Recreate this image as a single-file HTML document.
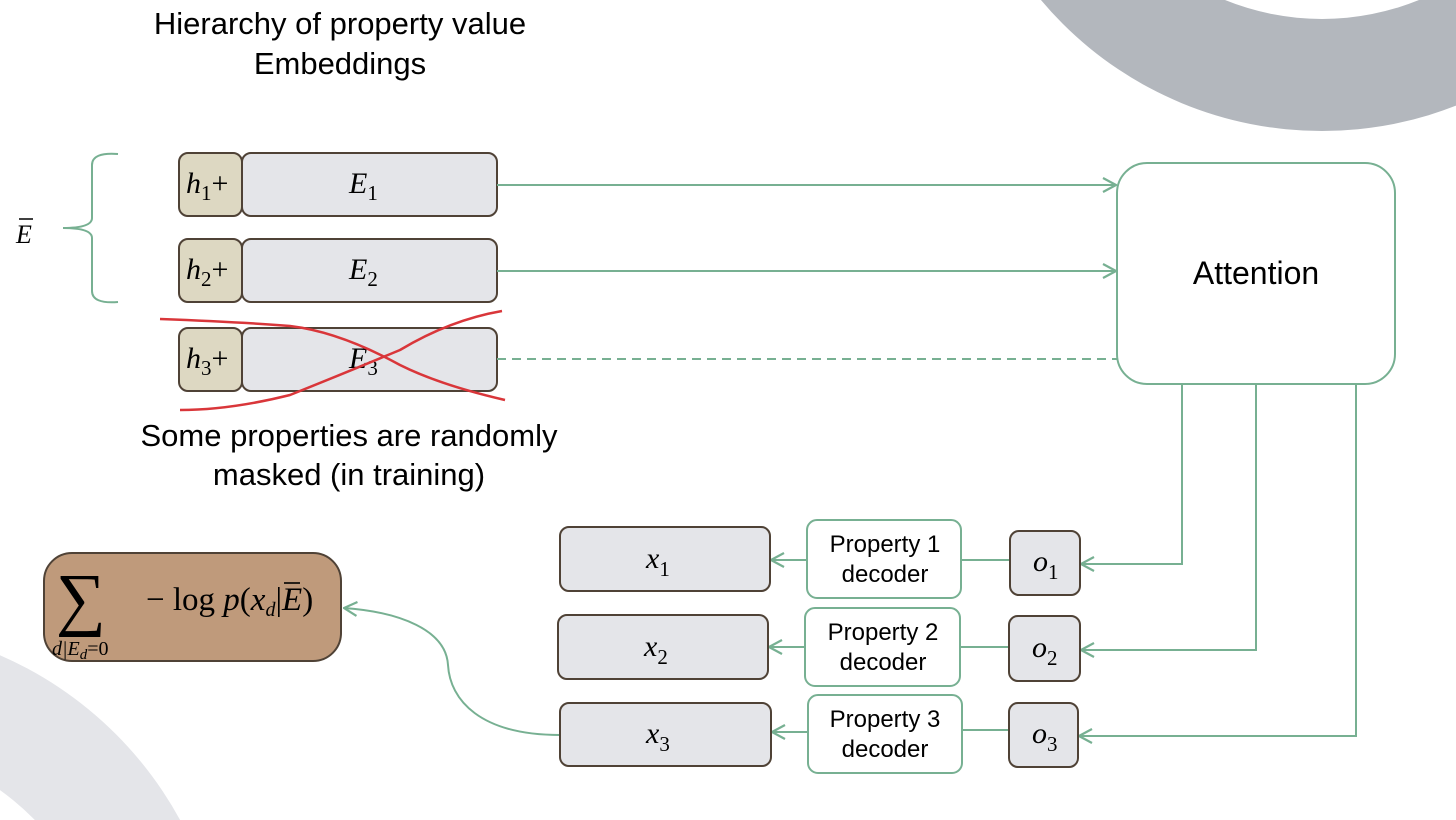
<!DOCTYPE html>
<html><head><meta charset="utf-8"><style>
html,body{margin:0;padding:0;background:#fff;overflow:hidden;width:1456px;height:820px}
svg{display:block}
</style></head><body>
<svg width="1456" height="820" viewBox="0 0 1456 820" xmlns="http://www.w3.org/2000/svg" font-family="Liberation Sans, sans-serif">
<defs>
<marker id="a" viewBox="0 0 16 16" refX="15" refY="8" markerWidth="16" markerHeight="16" markerUnits="userSpaceOnUse" orient="auto">
<path d="M2,1 L15,8 L2,15" fill="none" stroke="#77b092" stroke-width="2.2"/></marker>
</defs>
<path fill-rule="evenodd" fill="#b3b7bd" d="M955,-236 a367,367 0 1,0 734,0 a367,367 0 1,0 -734,0 Z M1065,-238 a257,257 0 1,0 514,0 a257,257 0 1,0 -514,0 Z"/>
<path fill-rule="evenodd" fill="#e4e5e9" d="M-526,1000 a376,376 0 1,0 752,0 a376,376 0 1,0 -752,0 Z M-408,1000 a258,258 0 1,0 516,0 a258,258 0 1,0 -516,0 Z"/>

<text x="340" y="34" font-size="31" text-anchor="middle">Hierarchy of property value</text>
<text x="340" y="74" font-size="31" text-anchor="middle">Embeddings</text>

<text x="16" y="243" font-family="Liberation Serif, serif" font-style="italic" font-size="26">E</text>
<line x1="19" y1="219" x2="33" y2="219" stroke="#000" stroke-width="1.5"/>
<path d="M118,154 Q92,152 92,165 L92,218 Q92,228 63,228 Q92,228 92,238 L92,291 Q92,304 118,302" fill="none" stroke="#77b092" stroke-width="2"/>

<g stroke="#4f4236" stroke-width="2">
<rect x="179" y="153" width="63" height="63" rx="9" fill="#ddd8c2"/>
<rect x="242" y="153" width="255" height="63" rx="9" fill="#e4e5e9"/>
<rect x="179" y="239" width="63" height="63" rx="9" fill="#ddd8c2"/>
<rect x="242" y="239" width="255" height="63" rx="9" fill="#e4e5e9"/>
<rect x="179" y="328" width="63" height="63" rx="9" fill="#ddd8c2"/>
<rect x="242" y="328" width="255" height="63" rx="9" fill="#e4e5e9"/>
</g>
<g font-size="30" font-family="Liberation Serif, serif" font-style="italic">
<text x="186" y="193">h<tspan font-size="21" dy="7" font-style="normal">1</tspan><tspan dy="-7" font-style="normal">+</tspan></text>
<text x="186" y="279">h<tspan font-size="21" dy="7" font-style="normal">2</tspan><tspan dy="-7" font-style="normal">+</tspan></text>
<text x="186" y="368">h<tspan font-size="21" dy="7" font-style="normal">3</tspan><tspan dy="-7" font-style="normal">+</tspan></text>
<text x="349" y="193">E<tspan font-size="21" dy="7" font-style="normal">1</tspan></text>
<text x="349" y="279">E<tspan font-size="21" dy="7" font-style="normal">2</tspan></text>
<text x="349" y="368">E<tspan font-size="21" dy="7" font-style="normal">3</tspan></text>
</g>
<path d="M160,319 Q240,322 290,326 Q340,332 400,365 Q440,385 505,400" fill="none" stroke="#d9363a" stroke-width="2.5"/>
<path d="M180,410 Q230,410 290,395 Q340,375 400,350 Q450,320 502,311" fill="none" stroke="#d9363a" stroke-width="2.5"/>

<text x="349" y="446" font-size="31" text-anchor="middle">Some properties are randomly</text>
<text x="349" y="485" font-size="31" text-anchor="middle">masked (in training)</text>

<g stroke="#77b092" stroke-width="2" fill="none">
<line x1="497" y1="185" x2="1116" y2="185" marker-end="url(#a)"/>
<line x1="497" y1="271" x2="1116" y2="271" marker-end="url(#a)"/>
<line x1="497" y1="359" x2="1117" y2="359" stroke-dasharray="9,6"/>
<rect x="1117" y="163" width="278" height="221" rx="30" fill="#fff"/>
<polyline points="1182,384 1182,564 1081,564" marker-end="url(#a)"/>
<polyline points="1256,384 1256,650 1081,650" marker-end="url(#a)"/>
<polyline points="1356,384 1356,736 1079,736" marker-end="url(#a)"/>
<line x1="1010" y1="560" x2="961" y2="560"/>
<line x1="1009" y1="647" x2="960" y2="647"/>
<line x1="1009" y1="730" x2="962" y2="730"/>
<line x1="807" y1="560" x2="771" y2="560" marker-end="url(#a)"/>
<line x1="805" y1="647" x2="769" y2="647" marker-end="url(#a)"/>
<line x1="808" y1="732" x2="772" y2="732" marker-end="url(#a)"/>
<rect x="807" y="520" width="154" height="78" rx="10" fill="#fff"/>
<rect x="805" y="608" width="155" height="78" rx="10" fill="#fff"/>
<rect x="808" y="695" width="154" height="78" rx="10" fill="#fff"/>
<path d="M560,735 C480,735 450,700 448,665 C446,630 400,612 344,608" marker-end="url(#a)"/>
</g>
<text x="1256" y="284" font-size="32" text-anchor="middle">Attention</text>

<g font-size="24" text-anchor="middle">
<text x="885" y="552">Property 1</text><text x="885" y="582">decoder</text>
<text x="883" y="640">Property 2</text><text x="883" y="670">decoder</text>
<text x="885" y="727">Property 3</text><text x="885" y="757">decoder</text>
</g>

<g stroke="#4f4236" stroke-width="2" fill="#e4e5e9">
<rect x="1010" y="531" width="70" height="64" rx="9"/>
<rect x="1009" y="616" width="71" height="65" rx="9"/>
<rect x="1009" y="703" width="69" height="64" rx="9"/>
<rect x="560" y="527" width="210" height="64" rx="9"/>
<rect x="558" y="615" width="210" height="64" rx="9"/>
<rect x="560" y="703" width="211" height="63" rx="9"/>
<rect x="44" y="553" width="297" height="108" rx="28" fill="#bf9a7b"/>
</g>
<g font-size="30" font-family="Liberation Serif, serif" font-style="italic">
<text x="1033" y="571">o<tspan font-size="21" dy="8" font-style="normal">1</tspan></text>
<text x="1032" y="657">o<tspan font-size="21" dy="8" font-style="normal">2</tspan></text>
<text x="1032" y="743">o<tspan font-size="21" dy="8" font-style="normal">3</tspan></text>
<text x="646" y="568">x<tspan font-size="21" dy="8" font-style="normal">1</tspan></text>
<text x="644" y="656">x<tspan font-size="21" dy="8" font-style="normal">2</tspan></text>
<text x="646" y="743">x<tspan font-size="21" dy="8" font-style="normal">3</tspan></text>
</g>
<text x="56" y="622" font-size="70" font-family="Liberation Serif, serif">∑</text>
<text x="146" y="610" font-size="33" font-family="Liberation Serif, serif">− log <tspan font-style="italic">p</tspan>(<tspan font-style="italic">x</tspan><tspan font-size="20" dy="6" font-style="italic">d</tspan><tspan dy="-6">|</tspan><tspan font-style="italic">E</tspan>)</text>
<line x1="284" y1="583" x2="300" y2="583" stroke="#000" stroke-width="1.6"/>
<text x="52" y="655" font-size="20" font-family="Liberation Serif, serif" font-style="italic">d|E<tspan font-size="15" dy="4">d</tspan><tspan dy="-4" font-style="normal">=0</tspan></text>
</svg>
</body></html>
